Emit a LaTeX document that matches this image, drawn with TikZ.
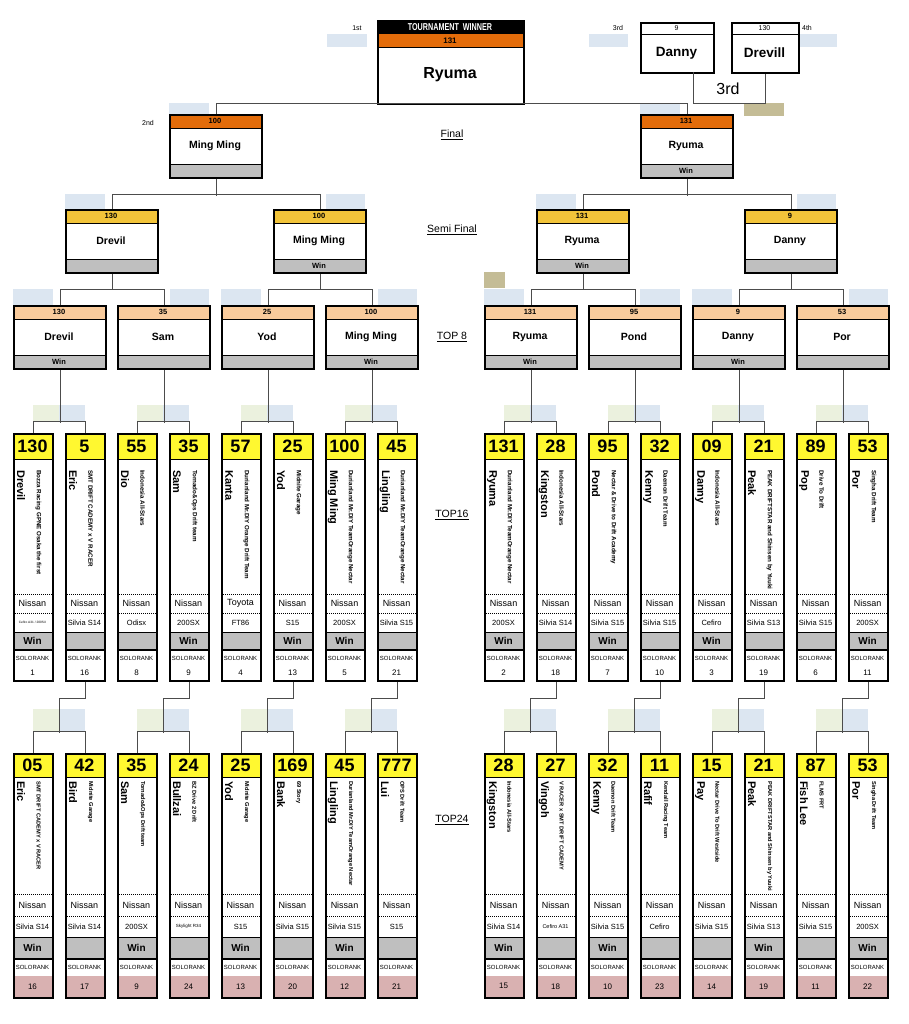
\documentclass[tikz,border=0pt]{standalone}
\usepackage{fontspec}
\setmainfont{Liberation Sans}
\usepackage{graphicx}
\usetikzlibrary{calc}
\definecolor{corange}{HTML}{E36C0A}
\definecolor{csemi}{HTML}{F2C43A}
\definecolor{cpeach}{HTML}{F9CB9C}
\definecolor{cyel}{HTML}{FFF830}
\definecolor{boxgray}{HTML}{BFBFBF}
\definecolor{lblue}{HTML}{DCE6F1}
\definecolor{lgreen}{HTML}{EBF1DE}
\definecolor{ctan}{HTML}{C4BC96}
\definecolor{rankpink}{HTML}{D9B1B1}
\newcommand{\fs}[1]{\fontsize{#1}{#1}\selectfont}
\tikzset{
  conn/.style={draw=black!70, line width=0.8pt},
  frame/.style={draw=black, line width=1.8pt, inner sep=0pt},
  dline/.style={draw=black, line width=0.5pt, dash pattern=on 1pt off 1pt},
  tline/.style={draw=black, line width=0.6pt},
  gline/.style={draw=black, line width=1.5pt},
  lbl/.style={font=\fs{10.5}, inner sep=0pt},
  tiny lbl/.style={font=\fs{7}, inner sep=0pt},
  txt/.style={inner sep=0pt},
}
% card layouts
\newcommand{\layoutA}{\def\yT{433}\def\yH{459.5}\def\yDa{594}\def\yDb{613}\def\yM{632}\def\yG{650}\def\yS{665}\def\yB{680}\def\yN{470}\def\cardh{247pt}\def\rankfill{white}\def\teamsize{6.2}}
\newcommand{\layoutB}{\def\yT{753}\def\yH{777}\def\yDa{894}\def\yDb{916}\def\yM{937}\def\yG{959}\def\yS{975.5}\def\yB{997}\def\yN{781}\def\cardh{244pt}\def\rankfill{rankpink}\def\teamsize{5.7}}
% id, x, number, name, team, make, model, win, rank
\newcommand{\mkcard}[9]{%
  \fill[cyel] (#2,\yT) rectangle (#2+39,\yH);
  \fill[boxgray] (#2,\yM) rectangle (#2+39,\yG);
  \fill[\rankfill] (#2,\yS) rectangle (#2+39,\yB);
  \draw[tline] (#2,\yH) -- (#2+39,\yH);
  \draw[dline] (#2,\yDa) -- (#2+39,\yDa);
  \draw[dline] (#2,\yDb) -- (#2+39,\yDb);
  \draw[tline] (#2,\yM) -- (#2+39,\yM);
  \draw[gline] (#2,\yG) -- (#2+39,\yG);
  \node[frame, minimum width=39pt, minimum height=\cardh, anchor=north west] (#1) at (#2,\yT) {};
  \node[txt, font=\bfseries\fs{18}] at (#2+19.5,{(\yT+\yH)/2}) {#3};
  \node[txt, font=\bfseries\fs{11}, rotate=-90, anchor=west] at (#2+8,\yN) {#4};
  \node[txt, font=\bfseries\fs{\teamsize}, rotate=-90, anchor=west] at (#2+25.5,\yN) {#5};
  \node[txt, font=\fs{9}] at (#2+19.5,{(\yDa+\yDb)/2}) {#6};
  \node[txt, font=\fs{7.5}] at (#2+19.5,{(\yDb+\yM)/2}) {#7};
  \node[txt, font=\bfseries\fs{10}] at (#2+19.5,{(\yM+\yG)/2}) {#8};
  \node[txt, font=\fs{6}] at (#2+19.5,{(\yG+\yS)/2+0.5}) {SOLORANK};
  \node[txt, font=\fs{8}] at (#2+19.5,{(\yS+\yB)/2}) {#9};
}
% id, x, y, header colour, score, name, win
\newcommand{\mkbox}[7]{%
  \fill[#4] (#2,#3) rectangle (#2+92,#3+14);
  \fill[boxgray] (#2,#3+50) rectangle (#2+92,#3+63);
  \draw[tline] (#2,#3+14) -- (#2+92,#3+14);
  \draw[tline] (#2,#3+50) -- (#2+92,#3+50);
  \node[frame, minimum width=92pt, minimum height=63pt, anchor=north west] (#1) at (#2,#3) {};
  \node[txt, font=\bfseries\fs{7.5}] at (#2+46,#3+7) {#5};
  \node[txt, font=\bfseries\fs{10.5}] at (#2+46,#3+32) {#6};
  \node[txt, font=\bfseries\fs{7.5}] at (#2+46,#3+56.5) {#7};
}
\begin{document}
\begin{tikzpicture}[x=1pt,y=-1pt]
\useasboundingbox (0,0) rectangle (908,1024);
\fill[white] (0,0) rectangle (908,1024);

% light marker rectangles
\fill[lblue] (327,34) rectangle (367,47);
\fill[lblue] (589,34) rectangle (628,47);
\fill[lblue] (798,34) rectangle (837,47);
\fill[lblue] (169,103) rectangle (209,114);
\fill[lblue] (640,103) rectangle (680,114);
\fill[ctan] (744,103) rectangle (784,116);
\fill[lblue] (65,194) rectangle (105,209);
\fill[lblue] (326,194) rectangle (365,209);
\fill[lblue] (536,194) rectangle (576,209);
\fill[lblue] (797,194) rectangle (836,209);
\foreach \a/\b in {13/53,170/209,221/261,378/417,484/524,640/680,692/732,849/888}
  \fill[lblue] (\a,289) rectangle (\b,305);
\fill[ctan] (484,272) rectangle (505,288);
\foreach \L in {13,117,221,325,484,588,692,796} {
  \fill[lgreen] (\L+19.5,405) rectangle (\L+45.5,421);
  \fill[lblue] (\L+45.5,405) rectangle (\L+71.5,421);
  \fill[lgreen] (\L+19.5,709) rectangle (\L+45.5,731);
  \fill[lblue] (\L+45.5,709) rectangle (\L+71.5,731);
}

% place labels
\node[tiny lbl] at (357,28) {1st};
\node[tiny lbl] at (618,28) {3rd};
\node[tiny lbl] at (807,28) {4th};
\node[tiny lbl] at (148,123) {2nd};
\node[lbl] at (452,135) {\underline{Final}};
\node[lbl] at (452,230) {\underline{Semi Final}};
\node[lbl] at (452,337) {\underline{TOP 8}};
\node[lbl] at (452,515) {\underline{TOP16}};
\node[lbl] at (452,820) {\underline{TOP24}};

% winner
\fill[black] (377,20) rectangle (523,34);
\fill[corange] (377,34) rectangle (523,47);
\draw[tline] (377,47) -- (523,47);
\node[frame, minimum width=146pt, minimum height=83pt, anchor=north west] (w) at (377,20) {};
\node[txt, text=white] at (450,27) {\scalebox{0.72}[1]{\bfseries\fs{10}TOURNAMENT\ \ WINNER}};
\node[txt, font=\bfseries\fs{8}] at (450,40.5) {131};
\node[txt, font=\bfseries\fs{16}] at (450,75) {Ryuma};

% 3rd place
\draw[tline] (640,34) -- (713,34);
\node[frame, minimum width=73pt, minimum height=50pt, anchor=north west] (d3) at (640,22) {};
\node[txt, font=\fs{7}] at (676.5,28) {9};
\node[txt, font=\bfseries\fs{13.5}] at (676.5,53) {Danny};
\draw[tline] (731,34) -- (798,34);
\node[frame, minimum width=67pt, minimum height=50pt, anchor=north west] (d4) at (731,22) {};
\node[txt, font=\fs{7}] at (764.5,28) {130};
\node[txt, font=\bfseries\fs{13.5}] at (764.5,53) {Drevill};
\node[txt, font=\fs{16}] at (728,89) {3rd};
\coordinate (d3c) at (693,72);

% bracket boxes
\mkbox{f1}{169}{114}{corange}{100}{Ming Ming}{}
\mkbox{f2}{640}{114}{corange}{131}{Ryuma}{Win}
\mkbox{s1}{65}{209}{csemi}{130}{Drevil}{}
\mkbox{s2}{273}{209}{csemi}{100}{Ming Ming}{Win}
\mkbox{s3}{536}{209}{csemi}{131}{Ryuma}{Win}
\mkbox{s4}{744}{209}{csemi}{9}{Danny}{}
\mkbox{q1}{13}{305}{cpeach}{130}{Drevil}{Win}
\mkbox{q2}{117}{305}{cpeach}{35}{Sam}{}
\mkbox{q3}{221}{305}{cpeach}{25}{Yod}{}
\mkbox{q4}{325}{305}{cpeach}{100}{Ming Ming}{Win}
\mkbox{q5}{484}{305}{cpeach}{131}{Ryuma}{Win}
\mkbox{q6}{588}{305}{cpeach}{95}{Pond}{}
\mkbox{q7}{692}{305}{cpeach}{9}{Danny}{Win}
\mkbox{q8}{796}{305}{cpeach}{53}{Por}{}

% TOP16
\layoutA
\mkcard{c1}{13}{130}{Drevil}{Bozza Racing GPNE Osaka the first}{Nissan}{\fs{3.2}Cefiro A31 / 200SX}{Win}{1}
\mkcard{c2}{65}{5}{Eric}{SMT DRIFT CADEMY x V RACER}{Nissan}{Silvia S14}{}{16}
\mkcard{c3}{117}{55}{Dio}{Indonesia All-Stars}{Nissan}{Odisx}{}{8}
\mkcard{c4}{169}{35}{Sam}{Tornado\&Ops Drift team}{Nissan}{200SX}{Win}{9}
\mkcard{c5}{221}{57}{Kanta}{Durianland Mr.DIY Orange Drift Team}{Toyota}{FT86}{}{4}
\mkcard{c6}{273}{25}{Yod}{Midnite Garage}{Nissan}{S15}{Win}{13}
\mkcard{c7}{325}{100}{Ming Ming}{Durianland Mr.DIY TeamOrange Nectar}{Nissan}{200SX}{Win}{5}
\mkcard{c8}{377}{45}{Lingling}{Durianland Mr.DIY TeamOrange Nectar}{Nissan}{Silvia S15}{}{21}
\mkcard{c9}{484}{131}{Ryuma}{Durianland Mr.DIY TeamOrange Nectar}{Nissan}{200SX}{Win}{2}
\mkcard{c10}{536}{28}{Kingston}{Indonesia All-Stars}{Nissan}{Silvia S14}{}{18}
\mkcard{c11}{588}{95}{Pond}{Nectar \& Drive to Drift Academy}{Nissan}{Silvia S15}{Win}{7}
\mkcard{c12}{640}{32}{Kenny}{Daemon Drift Team}{Nissan}{Silvia S15}{}{10}
\mkcard{c13}{692}{09}{Danny}{Indonesia All-Stars}{Nissan}{Cefiro}{Win}{3}
\mkcard{c14}{744}{21}{Peak}{PEAK DRIFTSTAR and Shinsen by Yuuki}{Nissan}{Silvia S13}{}{19}
\mkcard{c15}{796}{89}{Pop}{Drive To Drift}{Nissan}{Silvia S15}{}{6}
\mkcard{c16}{848}{53}{Por}{Singha Drift Team}{Nissan}{200SX}{Win}{11}

% TOP24
\layoutB
\mkcard{u1}{13}{05}{Eric}{SMT DRIFT CADEMY x V RACER}{Nissan}{Silvia S14}{Win}{16}
\mkcard{u2}{65}{42}{Bird}{Midnite Garage}{Nissan}{Silvia S14}{}{17}
\mkcard{u3}{117}{35}{Sam}{Tornado\&Ops Drift team}{Nissan}{200SX}{Win}{9}
\mkcard{u4}{169}{24}{Bullzai}{BZ Drive 2 Drift}{Nissan}{\fs{4.5}Skylight R34}{}{24}
\mkcard{u5}{221}{25}{Yod}{Midnite Garage}{Nissan}{S15}{Win}{13}
\mkcard{u6}{273}{169}{Bank}{69 Story}{Nissan}{Silvia S15}{}{20}
\mkcard{u7}{325}{45}{Lingling}{Durianland Mr.DIY TeamOrange Nectar}{Nissan}{Silvia S15}{Win}{12}
\mkcard{u8}{377}{777}{Lui}{OPS Drift Team}{Nissan}{S15}{}{21}
\mkcard{u9}{484}{28}{Kingston}{Indonesia All-Stars}{Nissan}{Silvia S14}{Win}{15}
\mkcard{u10}{536}{27}{Vingoh}{V RACER x SMT DRIFT CADEMY}{Nissan}{\fs{5.5}Cefiro A31}{}{18}
\mkcard{u11}{588}{32}{Kenny}{Daemon Drift Team}{Nissan}{Silvia S15}{Win}{10}
\mkcard{u12}{640}{11}{Rafif}{Kendall Racing Team}{Nissan}{Cefiro}{}{23}
\mkcard{u13}{692}{15}{Pay}{Nectar Drive To Drift Westside}{Nissan}{Silvia S15}{}{14}
\mkcard{u14}{744}{21}{Peak}{PEAK DRIFTSTAR and Shinsen by Yuuki}{Nissan}{Silvia S13}{Win}{19}
\mkcard{u15}{796}{87}{Fish Lee}{FLMS FRT}{Nissan}{Silvia S15}{}{11}
\mkcard{u16}{848}{53}{Por}{Singha Drift Team}{Nissan}{200SX}{Win}{22}

% connectors
\draw[conn] (f1.north) -- ++(0,-11) -| (f2.north);
\draw[conn] (d3c) -- ++(0,31) -| (d4.south);
\draw[conn] (f1.south) -- ++(0,17);
\draw[conn] (s1.north) -- ++(0,-15) -| (s2.north);
\draw[conn] (f2.south) -- ++(0,17);
\draw[conn] (s3.north) -- ++(0,-15) -| (s4.north);
\foreach \s/\a/\b in {1/1/2,2/3/4,3/5/6,4/7/8} {
  \draw[conn] (s\s.south) -- ++(0,16);
  \draw[conn] (q\a.north) -- ++(0,-16) -| (q\b.north);
}
\foreach \i/\j/\k in {1/1/2,2/3/4,3/5/6,4/7/8,5/9/10,6/11/12,7/13/14,8/15/16} {
  \draw[conn] (q\i.south) -- ++(0,53);
  \draw[conn] (c\j.north) -- ++(0,-12) -| (c\k.north);
  \draw[conn] (c\k.south) -- ++(0,17) -| ++(-26,34);
  \draw[conn] (u\j.north) -- ++(0,-22) -| (u\k.north);
}
\end{tikzpicture}
\end{document}
